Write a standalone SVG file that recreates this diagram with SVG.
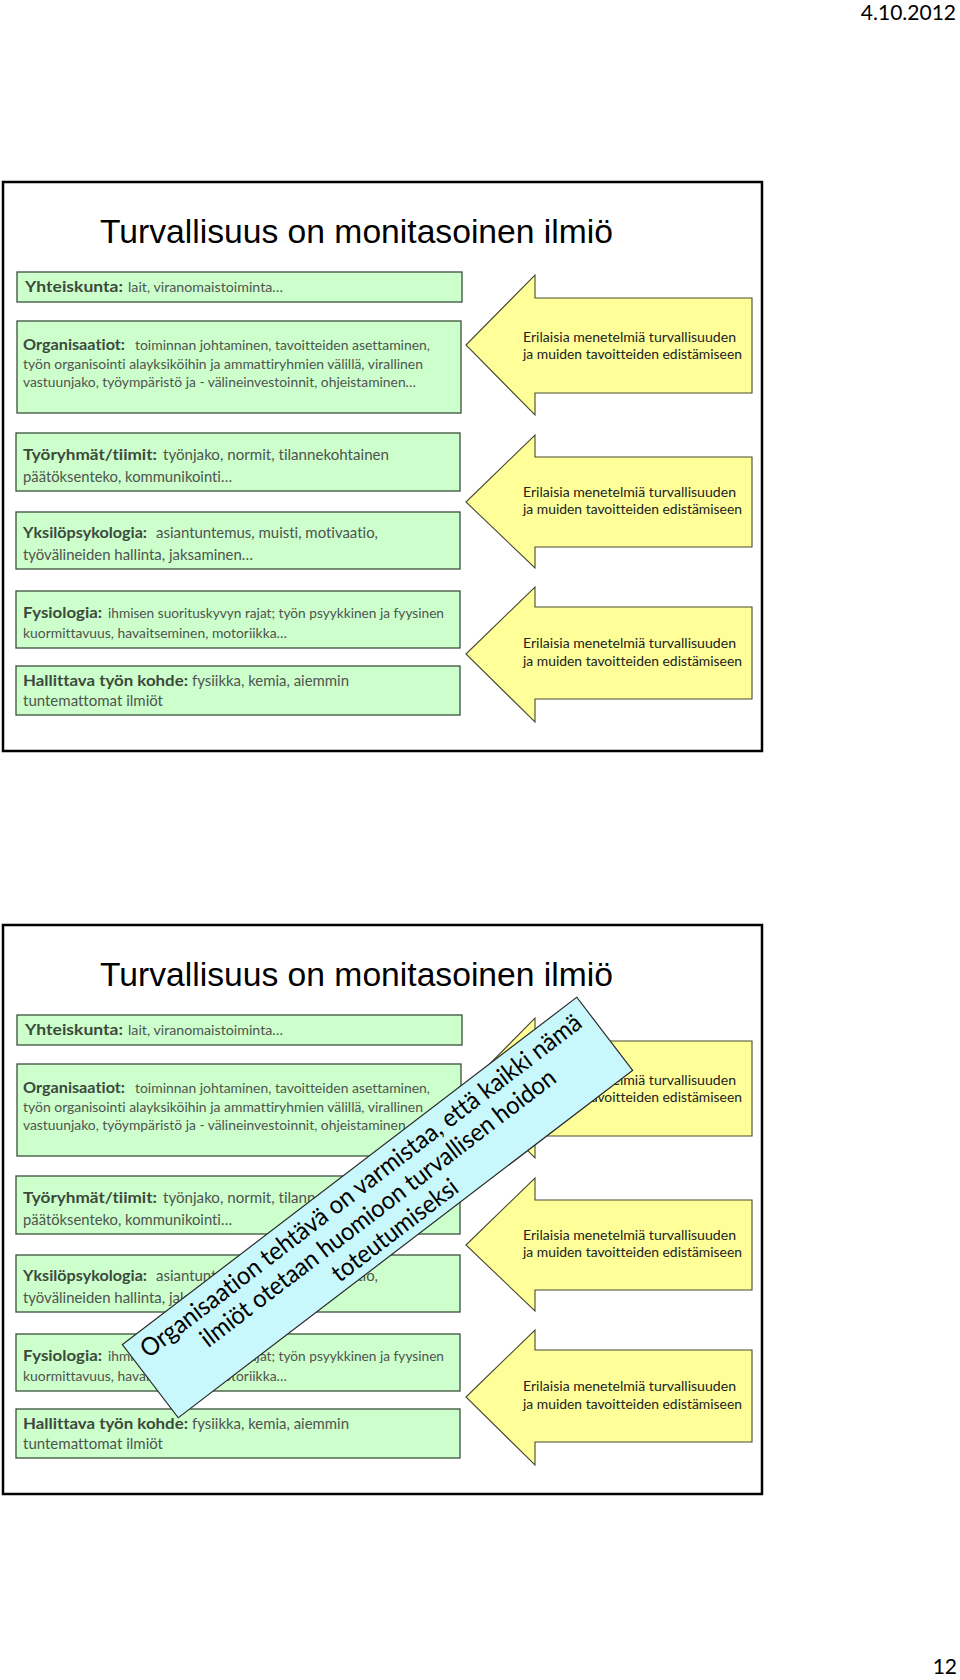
<svg xmlns="http://www.w3.org/2000/svg" width="960" height="1680" viewBox="0 0 960 1680">
<defs>
<style>
.bg{fill:#ffffff}
.frame{fill:#ffffff;stroke:#000000;stroke-width:2.5}
.box{fill:#ccffcc;stroke:#3b503b;stroke-width:1.3}
.arrow{fill:#ffff99;stroke:#4a4a30;stroke-width:1.1}
text{font-variant-ligatures:none}
.title{font-family:"Liberation Sans",Arial,sans-serif;font-size:33.6px;fill:#000000}
.lbl{font-family:Lato,"Open Sans","Liberation Sans",sans-serif;font-weight:700;font-size:16px;fill:#3c4a3c}
.t14{font-family:Lato,"Open Sans","Liberation Sans",sans-serif;font-size:14px;fill:#4f544f}
.t15{font-family:Lato,"Open Sans","Liberation Sans",sans-serif;font-size:15px;fill:#4f544f}
.atxt{font-family:Lato,"Open Sans","Liberation Sans",sans-serif;font-size:13.5px;fill:#222222}
.hdr{font-family:Lato,"Open Sans","Liberation Sans",sans-serif;font-size:21px;fill:#000000}
.banner{fill:#c8f8fc;stroke:#2a2a2a;stroke-width:1.2}
.btxt{font-family:Lato,"Open Sans","Liberation Sans",sans-serif;font-size:25px;fill:#000000;text-anchor:middle}
</style>
</defs>
<rect class="bg" x="0" y="0" width="960" height="1680"/>
<g id="page-header"><text class="hdr" x="956" y="20" text-anchor="end">4.10.2012</text></g>
<g id="page-number"><text class="hdr" x="957" y="1674" text-anchor="end">12</text></g>

<g id="slide1">
  <rect id="s1-frame" class="frame" x="3" y="182" width="759" height="569"/>
  <g id="s1-title"><text class="title" x="100" y="243" textLength="513" lengthAdjust="spacingAndGlyphs">Turvallisuus on monitasoinen ilmiö</text></g>
  <g id="s1-yhteiskunta">
    <rect class="box" x="17" y="272" width="445" height="30"/>
    <text class="lbl" x="25" y="292" textLength="98" lengthAdjust="spacingAndGlyphs">Yhteiskunta:</text>
    <text class="t14" x="128" y="292" textLength="155" lengthAdjust="spacingAndGlyphs">lait, viranomaistoiminta…</text>
  </g>
  <g id="s1-organisaatiot">
    <rect class="box" x="17" y="321" width="444" height="92"/>
    <text class="lbl" x="23" y="350" textLength="102" lengthAdjust="spacingAndGlyphs">Organisaatiot:</text>
    <text class="t14" x="135" y="350" textLength="295" lengthAdjust="spacingAndGlyphs">toiminnan johtaminen, tavoitteiden asettaminen,</text>
    <text class="t14" x="23" y="369" textLength="400" lengthAdjust="spacingAndGlyphs">työn organisointi alayksiköihin ja ammattiryhmien välillä, virallinen</text>
    <text class="t14" x="23" y="387" textLength="393" lengthAdjust="spacingAndGlyphs">vastuunjako, työympäristö ja - välineinvestoinnit, ohjeistaminen…</text>
  </g>
  <g id="s1-tyoryhmat">
    <rect class="box" x="16" y="433" width="444" height="58"/>
    <text class="lbl" x="23" y="460" textLength="134" lengthAdjust="spacingAndGlyphs">Työryhmät/tiimit:</text>
    <text class="t15" x="163" y="460" textLength="226" lengthAdjust="spacingAndGlyphs">työnjako, normit,  tilannekohtainen</text>
    <text class="t15" x="23" y="482" textLength="209" lengthAdjust="spacingAndGlyphs">päätöksenteko, kommunikointi…</text>
  </g>
  <g id="s1-yksilopsykologia">
    <rect class="box" x="16" y="512" width="444" height="57"/>
    <text class="lbl" x="23" y="538" textLength="124" lengthAdjust="spacingAndGlyphs">Yksilöpsykologia:</text>
    <text class="t15" x="156" y="538" textLength="222" lengthAdjust="spacingAndGlyphs">asiantuntemus, muisti, motivaatio,</text>
    <text class="t15" x="23" y="560" textLength="230" lengthAdjust="spacingAndGlyphs">työvälineiden hallinta, jaksaminen…</text>
  </g>
  <g id="s1-fysiologia">
    <rect class="box" x="16" y="591" width="444" height="57"/>
    <text class="lbl" x="23" y="618" textLength="79" lengthAdjust="spacingAndGlyphs">Fysiologia:</text>
    <text class="t14" x="108" y="618" textLength="336" lengthAdjust="spacingAndGlyphs">ihmisen suorituskyvyn rajat; työn psyykkinen ja fyysinen</text>
    <text class="t14" x="23" y="638" textLength="264" lengthAdjust="spacingAndGlyphs">kuormittavuus, havaitseminen, motoriikka…</text>
  </g>
  <g id="s1-hallittava">
    <rect class="box" x="16" y="666" width="444" height="49"/>
    <text class="lbl" x="23" y="686" textLength="165" lengthAdjust="spacingAndGlyphs">Hallittava työn kohde:</text>
    <text class="t15" x="192" y="686" textLength="157" lengthAdjust="spacingAndGlyphs">fysiikka, kemia, aiemmin</text>
    <text class="t15" x="23" y="706" textLength="140" lengthAdjust="spacingAndGlyphs">tuntemattomat ilmiöt</text>
  </g>
  <g id="s1-arrow1">
    <path class="arrow" d="M466,345 L535,275 L535,298 L752,298 L752,393 L535,393 L535,415 Z"/>
    <text class="atxt" x="523" y="342" textLength="213" lengthAdjust="spacingAndGlyphs">Erilaisia menetelmiä turvallisuuden</text>
    <text class="atxt" x="523" y="359" textLength="219" lengthAdjust="spacingAndGlyphs">ja muiden tavoitteiden edistämiseen</text>
  </g>
  <g id="s1-arrow2">
    <path class="arrow" d="M466,502 L535,435 L535,457 L752,457 L752,547 L535,547 L535,568 Z"/>
    <text class="atxt" x="523" y="497" textLength="213" lengthAdjust="spacingAndGlyphs">Erilaisia menetelmiä turvallisuuden</text>
    <text class="atxt" x="523" y="514" textLength="219" lengthAdjust="spacingAndGlyphs">ja muiden tavoitteiden edistämiseen</text>
  </g>
  <g id="s1-arrow3">
    <path class="arrow" d="M466,654 L535,587 L535,607 L752,607 L752,699 L535,699 L535,722 Z"/>
    <text class="atxt" x="523" y="648" textLength="213" lengthAdjust="spacingAndGlyphs">Erilaisia menetelmiä turvallisuuden</text>
    <text class="atxt" x="523" y="666" textLength="219" lengthAdjust="spacingAndGlyphs">ja muiden tavoitteiden edistämiseen</text>
  </g>
</g>

<g id="slide2" transform="translate(0,743)">
  <rect id="s2-frame" class="frame" x="3" y="182" width="759" height="569"/>
  <g id="s2-title"><text class="title" x="100" y="243" textLength="513" lengthAdjust="spacingAndGlyphs">Turvallisuus on monitasoinen ilmiö</text></g>
  <g id="s2-yhteiskunta">
    <rect class="box" x="17" y="272" width="445" height="30"/>
    <text class="lbl" x="25" y="292" textLength="98" lengthAdjust="spacingAndGlyphs">Yhteiskunta:</text>
    <text class="t14" x="128" y="292" textLength="155" lengthAdjust="spacingAndGlyphs">lait, viranomaistoiminta…</text>
  </g>
  <g id="s2-organisaatiot">
    <rect class="box" x="17" y="321" width="444" height="92"/>
    <text class="lbl" x="23" y="350" textLength="102" lengthAdjust="spacingAndGlyphs">Organisaatiot:</text>
    <text class="t14" x="135" y="350" textLength="295" lengthAdjust="spacingAndGlyphs">toiminnan johtaminen, tavoitteiden asettaminen,</text>
    <text class="t14" x="23" y="369" textLength="400" lengthAdjust="spacingAndGlyphs">työn organisointi alayksiköihin ja ammattiryhmien välillä, virallinen</text>
    <text class="t14" x="23" y="387" textLength="393" lengthAdjust="spacingAndGlyphs">vastuunjako, työympäristö ja - välineinvestoinnit, ohjeistaminen…</text>
  </g>
  <g id="s2-tyoryhmat">
    <rect class="box" x="16" y="433" width="444" height="58"/>
    <text class="lbl" x="23" y="460" textLength="134" lengthAdjust="spacingAndGlyphs">Työryhmät/tiimit:</text>
    <text class="t15" x="163" y="460" textLength="226" lengthAdjust="spacingAndGlyphs">työnjako, normit,  tilannekohtainen</text>
    <text class="t15" x="23" y="482" textLength="209" lengthAdjust="spacingAndGlyphs">päätöksenteko, kommunikointi…</text>
  </g>
  <g id="s2-yksilopsykologia">
    <rect class="box" x="16" y="512" width="444" height="57"/>
    <text class="lbl" x="23" y="538" textLength="124" lengthAdjust="spacingAndGlyphs">Yksilöpsykologia:</text>
    <text class="t15" x="156" y="538" textLength="222" lengthAdjust="spacingAndGlyphs">asiantuntemus, muisti, motivaatio,</text>
    <text class="t15" x="23" y="560" textLength="230" lengthAdjust="spacingAndGlyphs">työvälineiden hallinta, jaksaminen…</text>
  </g>
  <g id="s2-fysiologia">
    <rect class="box" x="16" y="591" width="444" height="57"/>
    <text class="lbl" x="23" y="618" textLength="79" lengthAdjust="spacingAndGlyphs">Fysiologia:</text>
    <text class="t14" x="108" y="618" textLength="336" lengthAdjust="spacingAndGlyphs">ihmisen suorituskyvyn rajat; työn psyykkinen ja fyysinen</text>
    <text class="t14" x="23" y="638" textLength="264" lengthAdjust="spacingAndGlyphs">kuormittavuus, havaitseminen, motoriikka…</text>
  </g>
  <g id="s2-hallittava">
    <rect class="box" x="16" y="666" width="444" height="49"/>
    <text class="lbl" x="23" y="686" textLength="165" lengthAdjust="spacingAndGlyphs">Hallittava työn kohde:</text>
    <text class="t15" x="192" y="686" textLength="157" lengthAdjust="spacingAndGlyphs">fysiikka, kemia, aiemmin</text>
    <text class="t15" x="23" y="706" textLength="140" lengthAdjust="spacingAndGlyphs">tuntemattomat ilmiöt</text>
  </g>
  <g id="s2-arrow1">
    <path class="arrow" d="M466,345 L535,275 L535,298 L752,298 L752,393 L535,393 L535,415 Z"/>
    <text class="atxt" x="523" y="342" textLength="213" lengthAdjust="spacingAndGlyphs">Erilaisia menetelmiä turvallisuuden</text>
    <text class="atxt" x="523" y="359" textLength="219" lengthAdjust="spacingAndGlyphs">ja muiden tavoitteiden edistämiseen</text>
  </g>
  <g id="s2-arrow2">
    <path class="arrow" d="M466,502 L535,435 L535,457 L752,457 L752,547 L535,547 L535,568 Z"/>
    <text class="atxt" x="523" y="497" textLength="213" lengthAdjust="spacingAndGlyphs">Erilaisia menetelmiä turvallisuuden</text>
    <text class="atxt" x="523" y="514" textLength="219" lengthAdjust="spacingAndGlyphs">ja muiden tavoitteiden edistämiseen</text>
  </g>
  <g id="s2-arrow3">
    <path class="arrow" d="M466,654 L535,587 L535,607 L752,607 L752,699 L535,699 L535,722 Z"/>
    <text class="atxt" x="523" y="648" textLength="213" lengthAdjust="spacingAndGlyphs">Erilaisia menetelmiä turvallisuuden</text>
    <text class="atxt" x="523" y="666" textLength="219" lengthAdjust="spacingAndGlyphs">ja muiden tavoitteiden edistämiseen</text>
  </g>
</g>

<g id="s2-banner" transform="translate(377.5,1207.5) rotate(-37.4)">
  <rect class="banner" x="-286" y="-46" width="572" height="92"/>
  <text class="btxt" x="0" y="-19" textLength="548" lengthAdjust="spacingAndGlyphs">Organisaation tehtävä on varmistaa, että kaikki nämä</text>
  <text class="btxt" x="0" y="9" textLength="440" lengthAdjust="spacingAndGlyphs">ilmiöt otetaan huomioon turvallisen hoidon</text>
  <text class="btxt" x="0" y="37" textLength="152" lengthAdjust="spacingAndGlyphs">toteutumiseksi</text>
</g>
<g id="connectors"></g>
</svg>
